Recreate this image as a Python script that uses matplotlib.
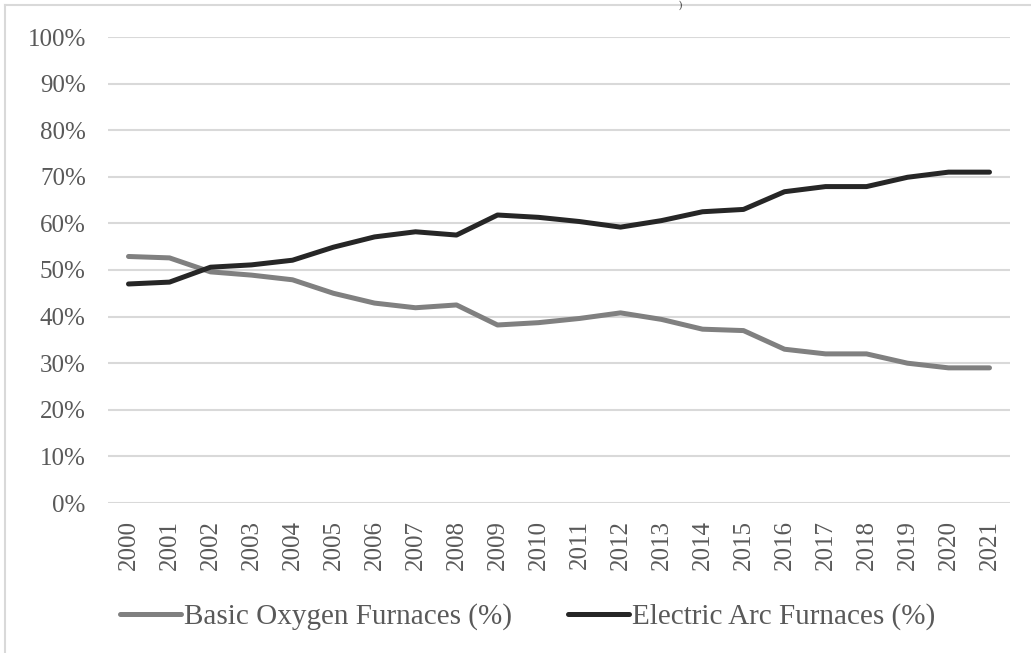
import matplotlib
matplotlib.use("Agg")
import matplotlib.pyplot as plt
from matplotlib.lines import Line2D
from matplotlib.ticker import FuncFormatter, MultipleLocator

years = [str(y) for y in range(2000, 2022)]
bof = [52.9, 52.6, 49.6, 48.9, 47.9, 45.0, 42.9, 41.9, 42.5, 38.2, 38.7,
       39.6, 40.8, 39.4, 37.3, 37.0, 33.0, 32.0, 32.0, 30.0, 29.0, 29.0]
eaf = [47.0, 47.4, 50.6, 51.1, 52.1, 54.9, 57.1, 58.2, 57.5, 61.8, 61.3,
       60.4, 59.2, 60.6, 62.5, 63.0, 66.8, 67.9, 67.9, 69.9, 71.0, 71.0]
series_names = ["Basic Oxygen Furnaces (%)", "Electric Arc Furnaces (%)"]
series_colors = ["#808080", "#262626"]

plt.rcParams["font.family"] = ["Liberation Serif", "DejaVu Serif"]

W, H = 1031, 653
fig = plt.figure(figsize=(W / 100, H / 100), dpi=100)
ax = fig.add_axes([108 / W, 1 - 503 / H, (1010 - 108) / W, (503 - 37) / H])

x = list(range(len(years)))
for vals, name, col in zip([bof, eaf], series_names, series_colors):
    ax.plot(x, [v / 100 for v in vals], color=col, lw=3.6, label=name,
            solid_capstyle="round", solid_joinstyle="round", zorder=3)

ax.set_xlim(-0.5, len(years) - 0.5)
ax.set_ylim(0, 1)
ax.yaxis.set_major_locator(MultipleLocator(0.1))
ax.yaxis.set_major_formatter(FuncFormatter(lambda v, p: f"{v*100:.0f}%"))
ax.set_xticks(x)
ax.set_xticklabels(years, rotation=90)
ax.grid(axis="y", color="#d9d9d9", lw=1.5, zorder=0)
ax.set_axisbelow(True)
for s in ax.spines.values():
    s.set_visible(False)
ax.tick_params(axis="both", length=0, labelsize=18, labelcolor="#595959")
ax.tick_params(axis="y", pad=16)
ax.tick_params(axis="x", pad=12)

leg = fig.legend(loc="center", bbox_to_anchor=(527.5 / W, 1 - 617 / H), ncol=2,
                 frameon=False, fontsize=21, handlelength=2.1, handletextpad=0.1,
                 columnspacing=1.9, labelcolor="#595959")
for h in leg.get_lines():
    h.set_linewidth(3.6)
    h.set_solid_capstyle("round")

# outer frame (left and top border of the chart area)
fig.add_artist(Line2D([5 / W, 5 / W], [0, 1 - 5 / H], color="#d9d9d9", lw=1.5,
                      transform=fig.transFigure))
fig.add_artist(Line2D([5 / W, 1], [1 - 5 / H, 1 - 5 / H], color="#d9d9d9", lw=1.5,
                      transform=fig.transFigure))
fig.text(680 / W, 1.0, ")", fontsize=7, color="#222222", ha="center", va="top")

fig.savefig("out.png", dpi=100, facecolor="white")
